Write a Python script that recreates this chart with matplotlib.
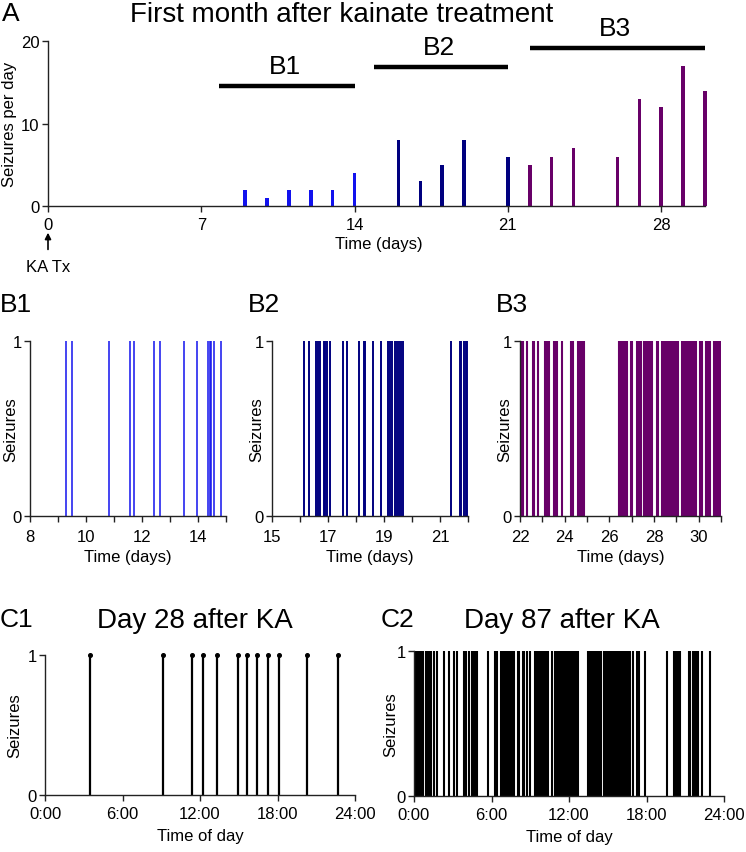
import matplotlib
matplotlib.use("Agg")
import matplotlib.pyplot as plt

plt.rcParams['font.family'] = ['Liberation Sans', 'DejaVu Sans']

# ---------------- data ----------------
# Panel A: seizures per day
a_days_b1 = [9, 10, 11, 12, 13, 14]
a_counts_b1 = [2, 1, 2, 2, 2, 4]
a_days_b2 = [16, 17, 18, 19, 21]
a_counts_b2 = [8, 3, 5, 8, 6]
a_days_b3 = [22, 23, 24, 26, 27, 28, 29, 30]
a_counts_b3 = [5, 6, 7, 6, 13, 12, 17, 14]
a_xticks = [0, 7, 14, 21, 28]
a_yticks = [0, 10, 20]
# range bars in panel A (start, end, height, label)
range_labels = ["B1", "B2", "B3"]
range_start = [7.8, 14.9, 22.0]
range_end = [14.0, 21.0, 30.0]
range_height = [14.5, 16.8, 19.1]

# Panel B: seizure event times (days)
b1_events = [9.30, 9.51, 10.83, 11.58, 11.73, 12.43, 12.64, 13.49, 13.95,
             14.36, 14.42, 14.48, 14.56, 14.82]
b2_events = [16.14, 16.33, 16.58, 16.65, 16.72, 16.84, 16.91, 16.98, 17.06,
             17.54, 17.67, 18.10, 18.27, 18.33, 18.62, 18.88,
             19.14, 19.22, 19.30, 19.38, 19.45, 19.52, 19.60, 19.68,
             21.38, 21.70, 21.76, 21.84, 21.92, 21.98]
b3_events = [22.07, 22.15, 22.33, 22.57, 22.64, 22.82,
             23.13, 23.22, 23.32, 23.50, 23.58, 23.66, 23.90,
             24.28, 24.37, 24.60, 24.68, 24.78, 24.86,
             26.42, 26.48, 26.55, 26.62, 26.70, 26.77,
             26.95, 27.03,
             27.22, 27.29, 27.36, 27.44,
             27.55, 27.62, 27.69, 27.76, 27.83, 27.89,
             28.14, 28.19,
             28.36, 28.43, 28.50, 28.57, 28.64, 28.71, 28.78, 28.85, 28.92, 28.99, 29.06,
             29.26, 29.33, 29.40, 29.47, 29.54, 29.61, 29.68, 29.75, 29.82, 29.90,
             30.05, 30.13,
             30.31, 30.38, 30.45, 30.51,
             30.68, 30.75, 30.82, 30.89, 30.96]
b1_xticks = [8, 9, 10, 11, 12, 13, 14, 15]
b1_xlabels = ["8", "", "10", "", "12", "", "14", ""]
b2_xticks = [15, 16, 17, 18, 19, 20, 21, 22]
b2_xlabels = ["15", "", "17", "", "19", "", "21", ""]
b3_xticks = [22, 23, 24, 25, 26, 27, 28, 29, 30, 31]
b3_xlabels = ["22", "", "24", "", "26", "", "28", "", "30", ""]

# Panel C: seizure times of day (hours)
c1_events = [3.48, 9.17, 11.36, 12.23, 13.31, 14.96, 15.60, 16.43, 17.30,
             18.10, 20.27, 22.71]
c2_events = [0.05, 0.15, 0.25, 0.35, 0.45, 0.55, 0.68, 0.93, 1.12, 1.22, 1.35,
             1.58, 1.80, 2.32, 2.70, 3.08, 3.33, 3.90, 4.02, 4.29, 4.48, 4.60,
             4.72, 4.84, 5.73, 6.25, 6.45, 6.75, 6.88, 7.00, 7.12, 7.26, 7.40,
             7.58, 7.74, 8.02, 8.12, 8.40, 8.54, 8.78, 8.98, 9.40, 9.50, 9.60,
             9.70, 9.80, 9.90, 10.00, 10.10, 10.22, 10.38, 10.66, 10.88, 11.05,
             11.18, 11.30, 11.42, 11.53, 11.68, 11.80, 11.92, 12.05, 12.15,
             12.32, 12.45, 12.58, 12.72, 13.45, 13.55, 13.65, 13.75, 13.85,
             13.95, 14.05, 14.15, 14.25, 14.33, 14.48, 14.70, 14.85, 14.95,
             15.05, 15.15, 15.25, 15.40, 15.50, 15.60, 15.70, 15.80, 15.90,
             16.00, 16.10, 16.20, 16.30, 16.42, 16.55, 16.75, 16.95, 17.25,
             17.45, 17.86, 19.55, 20.10, 20.25, 20.40, 20.58, 21.28, 21.40,
             21.62, 21.75, 21.90, 22.02, 22.28, 22.90]
c_xticks = [0, 6, 12, 18, 24]
c_xlabels = ["0:00", "6:00", "12:00", "18:00", "24:00"]

col_b1 = "#1212ee"
col_b2 = "#00007f"
col_b3 = "#680068"

W, H = 746, 853
fig = plt.figure(figsize=(W / 100, H / 100), dpi=100)

TFS = 12      # tick label size
LFS = 12      # axis label size
BIG = 19      # panel letters


def ax_px(left, right, top, bottom):
    return fig.add_axes([left / W, 1 - bottom / H, (right - left) / W, (bottom - top) / H])


def style(ax):
    for s in ["top", "right"]:
        ax.spines[s].set_visible(False)
    for s in ["left", "bottom"]:
        ax.spines[s].set_color("#222222")
        ax.spines[s].set_linewidth(1.0)
    ax.tick_params(direction="out", length=4, width=1, labelsize=TFS, colors="#222222",
                   labelcolor="black", pad=2)


# ---------------- Panel A ----------------
axA = ax_px(48, 48 + 21.9 * 30.25, 42, 207)
axA.bar(a_days_b1, a_counts_b1, width=0.16, color=col_b1)
axA.bar(a_days_b2, a_counts_b2, width=0.16, color=col_b2)
axA.bar(a_days_b3, a_counts_b3, width=0.16, color=col_b3)
axA.set_xlim(0, 30.25)
axA.set_ylim(0, 20)
style(axA)
axA.tick_params(axis="x", pad=4)
axA.spines["bottom"].set_bounds(0, 30)
axA.set_xticks(a_xticks)
axA.set_yticks(a_yticks)
axA.set_xlabel("Time (days)", fontsize=LFS, labelpad=3)
axA.set_ylabel("Seizures per day", fontsize=LFS)
axA.yaxis.set_label_coords((17 - 48) / 662, 0.5)
for lab, s, e, h in zip(range_labels, range_start, range_end, range_height):
    axA.plot([s, e], [h, h], color="black", lw=3.2, solid_capstyle="butt", clip_on=False)
    axA.text((s + e) / 2 - 0.1, h + 1.0, lab, fontsize=BIG, ha="center", va="bottom")
axA.annotate("", xy=(0, -2.9), xytext=(0, -5.6), xycoords="data",
             arrowprops=dict(arrowstyle="-|>", color="black", lw=1.2, mutation_scale=9),
             annotation_clip=False)
axA.text(0, -7.3, "KA Tx", fontsize=LFS, ha="center", va="center")

fig.text(2 / W, 1 - 14 / H, "A", fontsize=BIG, ha="left", va="center")
fig.text(342 / W, 1 - 15 / H, "First month after kainate treatment", fontsize=20,
         ha="center", va="center")


# ---------------- Panel B ----------------
def b_panel(left, right, events, color, lw, xlim, xticks, xlabels, letter, lx, ylx):
    ax = ax_px(left, right, 342, 517)
    ax.vlines(events, 0, 1, color=color, lw=lw)
    ax.set_xlim(*xlim)
    ax.set_ylim(0, 1)
    style(ax)
    ax.set_xticks(xticks)
    ax.set_xticklabels(xlabels)
    ax.set_yticks([0, 1])
    ax.tick_params(axis="x", pad=5)
    ax.set_xlabel("Time (days)", fontsize=LFS, labelpad=4)
    ax.set_ylabel("Seizures", fontsize=LFS)
    ax.yaxis.set_label_coords((ylx - left) / (right - left), 0.5)
    fig.text(lx / W, 1 - 305 / H, letter, fontsize=BIG, ha="left", va="center")
    return ax


b_panel(30, 226, b1_events, col_b1, 1.1, (8, 15), b1_xticks, b1_xlabels, "B1", 0, 18)
b_panel(272, 468, b2_events, col_b2, 1.4, (15, 22), b2_xticks, b2_xlabels, "B2", 248, 264)
b_panel(520, 721, b3_events, col_b3, 1.5, (22, 31), b3_xticks, b3_xlabels, "B3", 496, 512)


# ---------------- Panel C ----------------
def c_panel(left, right, top, bottom, events, lw, dots, letter, lx, title, tx, ylx):
    ax = ax_px(left, right, top, bottom)
    ax.vlines(events, 0, 1, color="black", lw=lw)
    if dots:
        ax.plot(events, [1] * len(events), "o", color="black", ms=2.6, clip_on=False)
    ax.set_xlim(0, 24)
    ax.set_ylim(0, 1)
    style(ax)
    ax.set_xticks(c_xticks)
    ax.set_xticklabels(c_xlabels)
    ax.set_yticks([0, 1])
    ax.tick_params(axis="x", pad=4)
    ax.set_xlabel("Time of day", fontsize=LFS, labelpad=5)
    ax.set_ylabel("Seizures", fontsize=LFS)
    ax.yaxis.set_label_coords((ylx - left) / (right - left), 0.5)
    fig.text(lx / W, 1 - 620 / H, letter, fontsize=BIG, ha="left", va="center")
    fig.text(tx / W, 1 - 621 / H, title, fontsize=20, ha="center", va="center")
    return ax


c_panel(45, 355, 656, 796, c1_events, 1.6, True, "C1", 0, "Day 28 after KA", 195, 22)
c_panel(414, 724, 652, 797, c2_events, 1.5, False, "C2", 381, "Day 87 after KA", 562, 398)

fig.savefig("out.png", dpi=100)
